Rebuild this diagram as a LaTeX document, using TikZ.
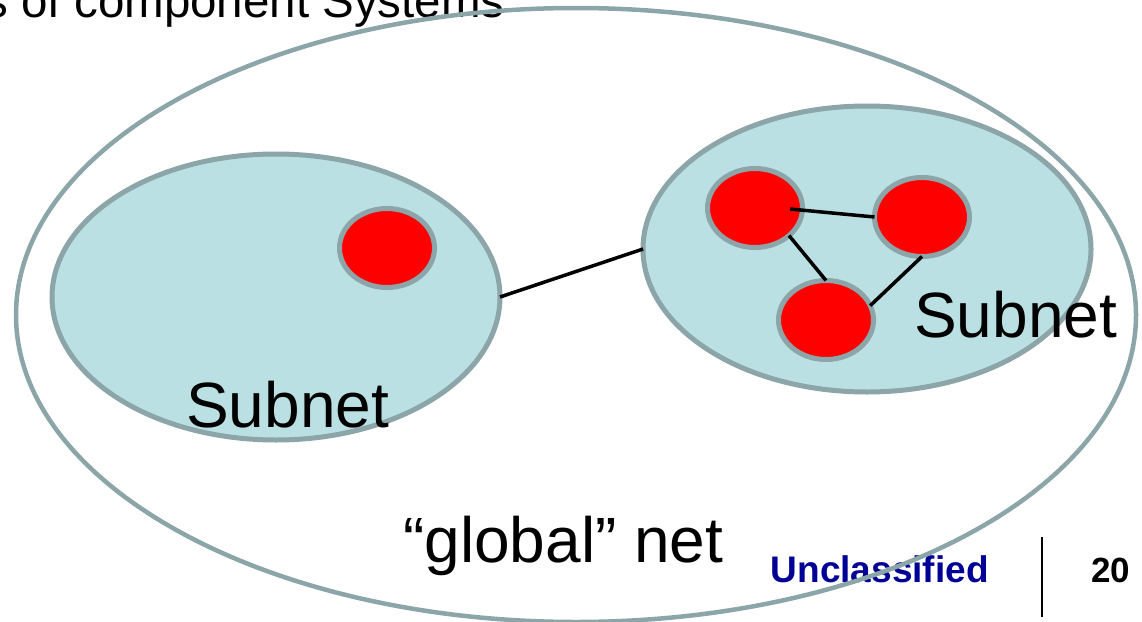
\documentclass[tikz,border=0pt]{standalone}
\usepackage{fontspec}
\setmainfont{Liberation Sans}
\usetikzlibrary{shapes.geometric}
\definecolor{rimgray}{RGB}{139,165,168}
\definecolor{subfill}{RGB}{186,224,227}
\definecolor{navyblue}{RGB}{0,0,150}
\tikzset{
  outernet/.style={ellipse, draw=rimgray, line width=4.5pt, inner sep=0pt, outer sep=0pt},
  subnetshape/.style={ellipse, draw=rimgray, fill=subfill, line width=5pt, inner sep=0pt, outer sep=0pt, minimum width=448pt, minimum height=286pt},
  hostnode/.style={ellipse, draw=rimgray, fill=red, line width=5pt, inner sep=0pt, outer sep=0pt, minimum width=95pt, minimum height=79pt},
  link/.style={draw=black, line width=3.5pt},
  bigtext/.style={inner sep=0pt, anchor=base west, font=\fontsize{64pt}{70pt}\selectfont},
}
\begin{document}
\begin{tikzpicture}[x=1pt,y=-1pt]
\useasboundingbox (0,0) rectangle (1142,621);
\clip (0,0) rectangle (1142,621);
% header and footer texts
\node[inner sep=0pt, anchor=base west, font=\fontsize{47.5pt}{52pt}\selectfont] (title) at (-15.6,17) {s of component Systems};
\node[inner sep=0pt, anchor=base west, text=navyblue, font=\fontsize{37pt}{40pt}\selectfont\bfseries] (uncl) at (770.5,582) {Unclassified};
\node[inner sep=0pt, anchor=base west, font=\fontsize{35pt}{40pt}\selectfont\bfseries] (pagenum) at (1091,582) {20};
\coordinate (bartop) at (1042,537);
\coordinate (barbot) at (1042,617);
\draw[line width=2.5pt] (bartop) -- (barbot);
% global net
\node[outernet, minimum width=1120pt, minimum height=614pt] (global) at (576,315) {};
% subnets
\node[subnetshape] (lsub) at (276,297) {};
\node[subnetshape] (rsub) at (867,249) {};
\draw[link] (lsub.east) -- (rsub.west);
% hosts
\node[hostnode] (d) at (387,248) {};
\node[hostnode] (a) at (755,208) {};
\node[hostnode] (b) at (922,217) {};
\node[hostnode] (c) at (826,320) {};
\draw[link] ([xshift=35pt,yshift=-1pt]a.center) -- (b.west);
\draw[link] (a.-39.5) -- (c.north);
\draw[link] (b.south) -- (c.18);
% labels
\node[bigtext] (lsublabel) at (186,427) {Subnet};
\node[bigtext] (rsublabel) at (914,337) {Subnet};
\node[bigtext] (globallabel) at (403,562) {“global” net};
\end{tikzpicture}
\end{document}
